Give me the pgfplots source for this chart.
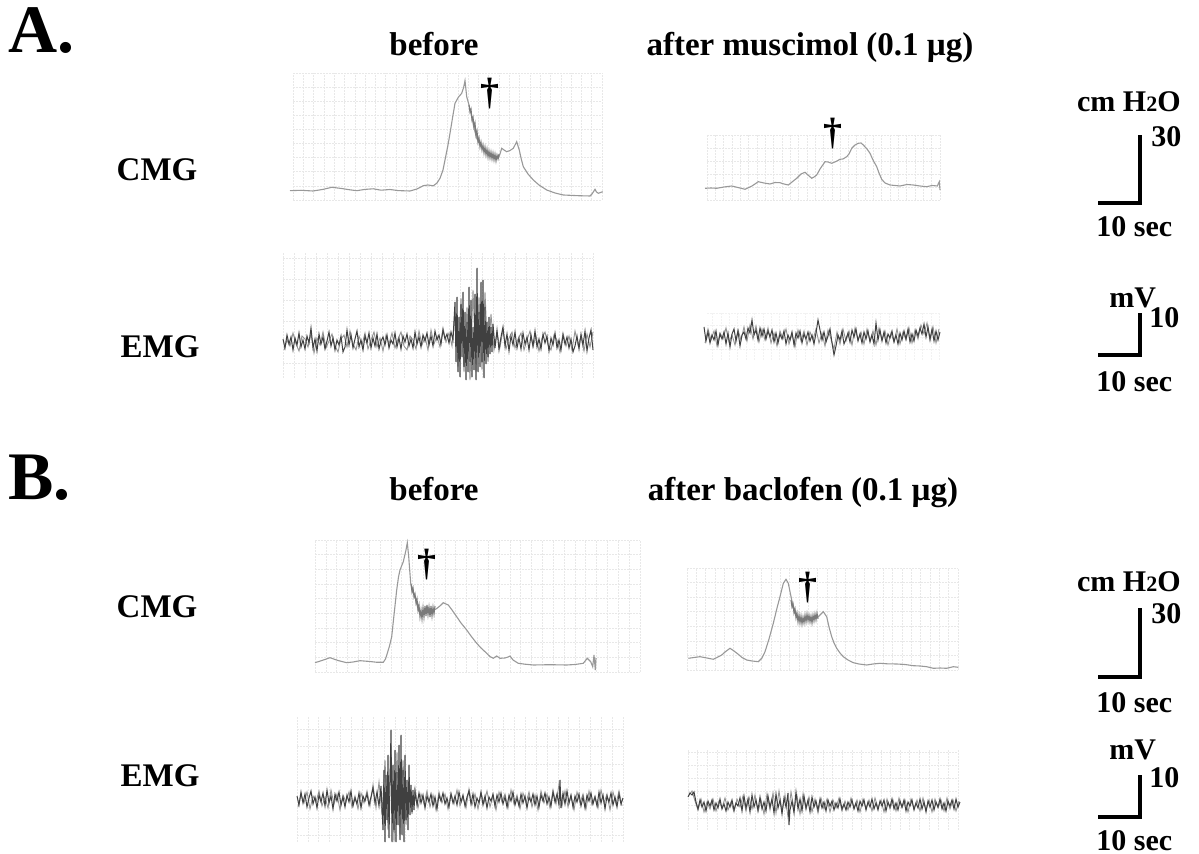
\documentclass[border=0pt]{standalone}
\usepackage{fontspec}
\setmainfont{Liberation Serif}
\usepackage{pgfplots}
\pgfplotsset{compat=1.18}
% one pixel of the reference = 0.5pt
\pgfplotsset{
  trace/.style={x=0.5pt,y=0.5pt,anchor=north west,clip=false,
    axis line style={draw=none},major tick length=0pt,tick style={draw=none},
    xticklabel={\relax},yticklabel={\relax},grid=major,
    major grid style={black!9,line width=0.3pt,dash pattern=on 1pt off 0.5pt}},
  cmg/.style={black!40,line width=0.55pt,mark=none},
  jit/.style={black!52,line width=0.55pt,mark=none},
  emg/.style={black!75,line width=0.5pt,mark=none},
  emgl/.style={black!42,line width=0.45pt,mark=none},
}
\newcommand\hd{\fontsize{16.5}{18}\selectfont\bfseries}
\newcommand\lbl{\fontsize{15}{16}\selectfont\bfseries}
\newcommand\dg{\fontsize{19}{19}\selectfont\bfseries}
\begin{document}
\begin{tikzpicture}
\useasboundingbox (0,0) rectangle (599.5pt,-427pt);

% ---------- A, CMG before
\begin{axis}[trace,at={(293*0.5pt,-73*0.5pt)},xmin=0,xmax=309,ymin=0,ymax=127,
  xtick distance=10.3,ytick distance=14.11]
\addplot[cmg] coordinates {(-3,9.3)(8,9.7)(20,9)(30,10.6)(38.7,12.7)(48,11.6)(56,10.3)(63.7,9.3)(72,10.6)(80.3,11.2)(88,9.8)(97,10.5)(105,9.4)(117,9)(124,11)(130.3,14.3)(135,15)(140.3,14.2)(144,17)(147,21.7)(150,30)(152,40)(155,55)(157,66.7)(160,85)(162,96.7)(165.3,102.7)(168.7,106.7)(170.5,112)(172,119.3)(173.7,103.3)(176,95)(178.7,83.3)(181,72)(183.7,61.7)(187,55)(190.3,51.7)(194,49)(197,46.7)(201,44)(205.3,41.7)(207,46)(208.7,51.7)(211,50)(213.7,48.3)(217,49.5)(220.3,51.7)(222,55)(223.7,58.3)(225,54)(226.3,50)(228,42)(230.3,33.3)(235,26)(240.3,20)(246,15)(253.7,10)(262,7)(270.3,5)(285,4.3)(297,4)(299,6)(302,10.7)(303.5,8)(305.3,6.7)(309.7,8.3)};
\addplot[jit] coordinates {(176,95)(177,88)(178,91)(179,80)(180,83)(181,73)(182,77)(183,65)(184,69)(185,58)(186,62)(187,53)(188,58)(189,50)(190,55)(191,47)(192,53)(193,45)(194,51)(195,43)(196,49)(197,42)(198,48)(199,41)(200,47)(201,40)(202,46)(203,39)(204,45)(205,41)(206,46)};
\end{axis}

% ---------- A, CMG after muscimol
\begin{axis}[trace,at={(707*0.5pt,-135*0.5pt)},xmin=0,xmax=233,ymin=0,ymax=65,
  xtick distance=8.32,ytick distance=13]
\addplot[cmg] coordinates {(-2,11.7)(4,12)(9.7,11.7)(17,13)(24.7,14)(31,12.5)(38,10.7)(45,14)(51.3,18.3)(57,17)(63,16)(68,17.5)(73,17.3)(77,16)(81.3,15)(85,18)(89.7,21.7)(94,26)(98,27.7)(101,25)(104.7,21.7)(107,23)(109.7,25)(113,31)(118,38.3)(121,38)(124.7,36.7)(129,38.5)(133,40.7)(136,41)(139.7,43.3)(142,46)(144.7,51.7)(148,55)(151.3,56.7)(154,57)(156.3,55)(160,51)(163,46.7)(166,40)(169.7,33.3)(172,27)(174.7,20.7)(178,17)(183,15)(188,14.5)(193,14)(200,15.5)(206.3,15)(213,14)(219.7,13.3)(225,14.5)(230.3,14)(232.3,18.3)(233,10)};
\end{axis}

% ---------- A, EMG before
\begin{axis}[trace,at={(283*0.5pt,-253*0.5pt)},xmin=0,xmax=310,ymin=-36,ymax=89,
  xtick distance=11.07,ytick distance=20.83]
\addplot[emgl] coordinates {(1,-8)(4,2)(7,-4)(10,9)(13,-2)(16,-9)(19,6)(22,3)(25,-5)(28,8)(31,-11)(34,4)(37,-3)(40,10)(43,-6)(46,1)(49,8)(52,-4)(55,-10)(58,3)(61,7)(64,-5)(67,11)(70,-2)(73,-8)(76,6)(79,-3)(82,9)(85,-7)(88,2)(91,10)(94,-5)(97,4)(100,-9)(103,7)(106,-2)(109,9)(112,-6)(115,3)(118,10)(121,-4)(124,-8)(127,6)(130,2)(133,-7)(136,11)(139,-3)(142,5)(145,-8)(148,12)(151,-2)(154,6)(157,-5)(160,14)(163,0)(166,9)(169,-4)(172,30)(175,-25)(178,44)(181,-30)(184,35)(187,-38)(190,52)(193,-30)(196,45)(199,-28)(202,50)(205,-20)(208,28)(211,-8)(214,9)(217,-5)(220,12)(223,-7)(226,4)(229,10)(232,-6)(235,3)(238,9)(241,-8)(244,2)(247,11)(250,-5)(253,6)(256,-9)(259,4)(262,10)(265,-3)(268,-8)(271,7)(274,2)(277,-10)(280,9)(283,-4)(286,6)(289,-8)(292,11)(295,-3)(298,5)(301,-9)(304,8)(307,-5)(310,10)};
\addplot[emg] coordinates {(0,3)(2,-6)(4,7)(6,-2)(8,5)(10,-8)(12,4)(14,-3)(16,9)(18,-5)(20,2)(22,-7)(24,6)(26,-1)(28,14)(30,-6)(32,3)(34,-9)(36,8)(38,-2)(40,5)(42,-7)(44,1)(46,10)(48,-4)(50,4)(52,-8)(54,2)(56,-3)(58,6)(60,-10)(62,-5)(64,12)(66,-3)(68,7)(70,-6)(72,3)(74,11)(76,-5)(78,2)(80,-8)(82,6)(84,-1)(86,9)(88,-6)(90,4)(92,-4)(94,8)(96,-7)(98,1)(100,5)(102,-3)(104,7)(106,-6)(108,2)(110,-2)(112,9)(114,-5)(116,4)(118,-7)(120,6)(122,0)(124,8)(126,-4)(128,3)(130,-6)(132,10)(134,-2)(136,5)(138,-5)(140,7)(142,1)(144,9)(146,-3)(148,6)(150,-4)(152,11)(154,2)(156,7)(158,-2)(160,12)(162,3)(164,8)(166,-1)(168,10)(170,2)(172,40)(173,-20)(174,45)(175,-30)(176,25)(177,-35)(178,38)(179,-15)(180,50)(181,-25)(182,30)(183,-38)(184,20)(185,-30)(186,55)(187,-20)(188,42)(189,-35)(190,15)(191,-28)(192,48)(193,-38)(194,74)(195,-30)(196,30)(197,-25)(198,60)(199,-20)(200,62)(201,-36)(202,35)(203,-22)(204,20)(205,-15)(206,25)(207,-12)(208,15)(209,-10)(210,18)(212,-6)(214,12)(216,-8)(218,5)(220,15)(222,-4)(224,8)(226,-9)(228,6)(230,-3)(232,10)(234,-6)(236,4)(238,-7)(240,9)(242,-2)(244,5)(246,-8)(248,7)(250,-4)(252,11)(254,-5)(256,3)(258,-7)(260,8)(262,-1)(264,6)(266,-9)(268,4)(270,-3)(272,9)(274,-6)(276,2)(278,-8)(280,7)(282,-2)(284,5)(286,-6)(288,3)(290,-10)(292,-4)(294,6)(296,-7)(298,8)(300,-3)(302,11)(304,-9)(306,4)(308,12)(310,-8)};
\end{axis}

% ---------- A, EMG after muscimol
\begin{axis}[trace,at={(707*0.5pt,-313*0.5pt)},xmin=3,xmax=236,ymin=-23,ymax=24,
  xtick distance=8.4,ytick distance=12,major grid style={black!5,line width=0.3pt,dash pattern=on 1pt off 0.5pt}]
\addplot[emgl] coordinates {(1,-6)(4,8)(7,-3)(10,6)(13,-9)(16,4)(19,-2)(22,9)(25,-5)(28,2)(31,-8)(34,7)(37,-3)(40,10)(43,-4)(46,12)(49,-2)(52,11)(55,-5)(58,8)(61,-3)(64,9)(67,-6)(70,4)(73,-9)(76,6)(79,-2)(82,8)(85,-7)(88,3)(91,-10)(94,7)(97,-4)(100,6)(103,-8)(106,5)(109,-3)(112,8)(115,-6)(118,4)(121,-9)(124,7)(127,-2)(130,-12)(133,5)(136,-7)(139,8)(142,-4)(145,6)(148,-8)(151,9)(154,-3)(157,5)(160,-7)(163,8)(166,-4)(169,6)(172,-8)(175,9)(178,-3)(181,6)(184,-8)(187,4)(190,-5)(193,8)(196,-7)(199,5)(202,-3)(205,9)(208,-6)(211,7)(214,-2)(217,12)(220,3)(223,14)(226,-4)(229,10)(232,-6)(235,8)};
\addplot[emg] coordinates {(0,10)(2,-4)(4,5)(6,-6)(8,2)(10,-3)(12,6)(14,-8)(16,3)(18,-2)(20,5)(22,-7)(24,4)(26,-10)(28,3)(30,8)(32,-4)(34,6)(36,-9)(38,2)(40,5)(42,-2)(44,9)(46,4)(48,17)(50,2)(52,7)(54,-3)(56,9)(58,1)(60,8)(62,-2)(64,6)(66,0)(68,7)(70,-5)(72,4)(74,-6)(76,3)(78,-2)(80,6)(82,-7)(84,2)(86,-3)(88,5)(90,-8)(92,4)(94,-1)(96,6)(98,-6)(100,3)(102,-2)(104,5)(106,-4)(108,2)(110,-7)(112,4)(114,17)(116,7)(118,-3)(120,5)(122,-5)(124,1)(126,8)(128,-6)(130,-18)(132,-9)(134,2)(136,-3)(138,6)(140,-7)(142,-2)(144,4)(146,-5)(148,7)(150,0)(152,8)(154,-4)(156,3)(158,-6)(160,5)(162,-2)(164,6)(166,-5)(168,2)(170,-7)(172,14)(174,-3)(176,7)(178,-4)(180,5)(182,-6)(184,3)(186,-1)(188,6)(190,-5)(192,2)(194,-7)(196,4)(198,-3)(200,6)(202,-2)(204,8)(206,-5)(208,3)(210,-4)(212,7)(214,1)(216,9)(218,3)(220,13)(222,0)(224,10)(226,-2)(228,8)(230,-4)(232,6)(234,-3)(236,5)};
\end{axis}

% ---------- B, CMG before
\begin{axis}[trace,at={(315*0.5pt,-540*0.5pt)},xmin=0,xmax=325,ymin=0,ymax=132,
  xtick distance=10.83,ytick distance=14.67]
\addplot[cmg] coordinates {(0,9.3)(7,11.5)(15,14.3)(23,11.5)(31.7,9.3)(38,10)(45,11.3)(55,10.5)(62,9.7)(68.3,9.7)(70.5,13)(72.3,18.7)(74.5,26)(76.7,35.3)(79,57)(81.7,82)(83.5,95)(85,102)(88.3,110.3)(91,122)(92.3,129.3)(93.7,115.3)(95.7,88.7)(100,75.3)(103.3,62)(106.7,55.3)(109,59)(111.7,65.3)(115,63)(118.3,62)(121,63)(123.3,64.7)(126,67)(128.3,69.3)(131,68)(133.3,67)(137,62)(141.7,55.3)(146,49)(151.7,42)(156,36)(161.7,28.7)(166,24)(171.7,18.7)(175,15.5)(178.3,13.7)(181.7,16)(185,13.7)(190,14)(193,15)(195,16)(198,12)(203.3,8.7)(210,7.8)(218.3,7)(235,7.3)(251.7,7)(260,7.5)(268.3,8.7)(272.3,13.7)(275.7,10.3)(277.7,5.3)(279,17)(280.3,2)(281,14)};
\addplot[jit] coordinates {(96,88)(97,80)(98,84)(99,75)(100,78)(101,69)(102,73)(103,62)(104,67)(105,55)(106,62)(107,53)(108,64)(109,55)(110,66)(111,56)(112,67)(113,57)(114,65)(115,55)(116,66)(117,56)(118,65)(119,58)(120,66)};
\end{axis}

% ---------- B, CMG after baclofen
\begin{axis}[trace,at={(687*0.5pt,-568*0.5pt)},xmin=0,xmax=271,ymin=0,ymax=102,
  xtick distance=9.34,ytick distance=14.57]
\addplot[cmg] coordinates {(1.3,11.7)(7,12.5)(13,13.3)(20,12)(26.3,10.7)(30,12.5)(34.7,15)(38,18)(43,21.7)(47,19)(51.3,15.7)(55,12.5)(59.7,10)(65,9)(71.3,8.3)(75,12)(78,18.3)(82,31)(86.3,46.7)(90,62)(93,73.3)(96.3,86.7)(99,90.7)(101.3,86.7)(104.7,70)(107,62)(109.7,55)(112,51)(114.7,50)(118,52)(121.3,53.3)(125,52)(128,51.7)(131,53)(133,55)(136.3,58.3)(139.7,53.3)(142,43)(144.7,33.3)(147,27)(149.7,21.7)(153,17)(156.3,13.3)(161,10)(166.3,7.3)(172,6)(179.7,5)(186,6)(193,6.7)(200,6.2)(209.7,6)(218,5.5)(226.3,4.3)(233,4)(239.7,3.3)(246.3,1.7)(253,2)(259.7,1.7)(266.3,3.3)(271.3,2.7)};
\addplot[jit] coordinates {(104,70)(105,63)(106,66)(107,57)(108,61)(109,52)(110,57)(111,48)(112,55)(113,47)(114,54)(115,46)(116,53)(117,47)(118,55)(119,48)(120,56)(121,49)(122,55)(123,48)(124,54)(125,47)(126,55)(127,49)(128,56)(129,50)(130,57)(131,51)};
\end{axis}

% ---------- B, EMG before
\begin{axis}[trace,at={(297*0.5pt,-717*0.5pt)},xmin=0,xmax=326,ymin=-42,ymax=83,
  xtick distance=10.87,ytick distance=17.8]
\addplot[emgl] coordinates {(1,-7)(4,5)(7,-3)(10,8)(13,-9)(16,4)(19,-2)(22,9)(25,-6)(28,3)(31,-8)(34,10)(37,-4)(40,6)(43,-10)(46,5)(49,-2)(52,8)(55,-7)(58,4)(61,-9)(64,7)(67,-3)(70,9)(73,-6)(76,15)(79,-8)(82,18)(85,-15)(88,40)(91,-30)(94,55)(97,-42)(100,48)(103,-35)(106,40)(109,-25)(112,22)(115,-14)(118,12)(121,-8)(124,6)(127,-4)(130,9)(133,-7)(136,5)(139,-10)(142,8)(145,-3)(148,6)(151,-9)(154,7)(157,-4)(160,10)(163,-6)(166,3)(169,-8)(172,11)(175,-5)(178,6)(181,-9)(184,7)(187,-3)(190,9)(193,-7)(196,4)(199,-10)(202,8)(205,-2)(208,6)(211,-8)(214,10)(217,-4)(220,5)(223,-9)(226,7)(229,-3)(232,8)(235,-7)(238,5)(241,-10)(244,9)(247,-3)(250,6)(253,-8)(256,10)(259,-4)(262,16)(265,-6)(268,9)(271,-7)(274,4)(277,-10)(280,8)(283,-3)(286,6)(289,-9)(292,9)(295,-5)(298,4)(301,-8)(304,10)(307,-3)(310,6)(313,-10)(316,8)(319,-4)(322,9)(325,-6)};
\addplot[emg] coordinates {(0,4)(2,-5)(4,8)(6,-3)(8,6)(10,-7)(12,2)(14,9)(16,-4)(18,3)(20,-8)(22,5)(24,-2)(26,7)(28,-6)(30,10)(32,-3)(34,4)(36,-9)(38,6)(40,-1)(42,8)(44,-5)(46,3)(48,-7)(50,5)(52,-2)(54,9)(56,-6)(58,2)(60,-4)(62,7)(64,-8)(66,4)(68,-1)(70,6)(72,-5)(74,3)(76,12)(78,-3)(80,8)(82,-6)(84,14)(86,-30)(87,30)(88,-42)(89,25)(90,-20)(91,45)(92,-38)(93,18)(94,70)(95,-42)(96,35)(97,-30)(98,50)(99,-42)(100,28)(101,-25)(102,55)(103,-40)(104,65)(105,-35)(106,30)(107,-42)(108,45)(109,-20)(110,20)(111,-30)(112,35)(113,-15)(114,15)(115,-12)(116,10)(117,-10)(118,8)(120,-5)(122,7)(124,-3)(126,5)(128,-8)(130,4)(132,-2)(134,6)(136,-6)(138,3)(140,-9)(142,5)(144,-1)(146,7)(148,-4)(150,2)(152,-7)(154,6)(156,-3)(158,4)(160,-5)(162,8)(164,-2)(166,5)(168,-6)(170,3)(172,9)(174,-4)(176,6)(178,-7)(180,2)(182,-3)(184,8)(186,-5)(188,4)(190,-8)(192,3)(194,-1)(196,6)(198,-6)(200,5)(202,-2)(204,7)(206,-4)(208,3)(210,-7)(212,5)(214,-1)(216,8)(218,-5)(220,2)(222,-6)(224,6)(226,-3)(228,4)(230,-8)(232,3)(234,-2)(236,6)(238,-5)(240,4)(242,-7)(244,5)(246,-1)(248,7)(250,-4)(252,3)(254,-6)(256,8)(258,-2)(260,6)(262,-5)(263,20)(264,-8)(266,7)(268,-4)(270,9)(272,-3)(274,5)(276,-7)(278,4)(280,-2)(282,6)(284,-6)(286,3)(288,-8)(290,5)(292,-1)(294,7)(296,-4)(298,3)(300,-6)(302,8)(304,-3)(306,5)(308,-9)(310,4)(312,-2)(314,7)(316,-5)(318,3)(320,-7)(322,6)(324,-4)(326,2)};
\end{axis}

% ---------- B, EMG after baclofen
\begin{axis}[trace,at={(688*0.5pt,-750*0.5pt)},xmin=0,xmax=270,ymin=-25,ymax=55,
  xtick distance=9.64,ytick distance=13.3]
\addplot[emgl] coordinates {(1,10)(4,14)(7,4)(10,-5)(13,6)(16,-7)(19,3)(22,-4)(25,6)(28,-6)(31,4)(34,-3)(37,7)(40,-5)(43,3)(46,-7)(49,6)(52,-2)(55,9)(58,-6)(61,8)(64,-4)(67,10)(70,-7)(73,5)(76,-9)(79,11)(82,-5)(85,12)(88,-8)(91,14)(94,-6)(97,10)(100,-12)(103,13)(106,-4)(109,9)(112,-9)(115,11)(118,-5)(121,8)(124,-7)(127,6)(130,-8)(133,7)(136,-4)(139,6)(142,-7)(145,5)(148,-3)(151,7)(154,-6)(157,4)(160,-5)(163,7)(166,-3)(169,5)(172,-7)(175,6)(178,-4)(181,5)(184,-6)(187,7)(190,-3)(193,5)(196,-7)(199,6)(202,-4)(205,5)(208,-6)(211,7)(214,-3)(217,5)(220,-7)(223,6)(226,-4)(229,5)(232,-6)(235,7)(238,-5)(241,5)(244,-7)(247,6)(250,-3)(253,5)(256,-6)(259,7)(262,-4)(265,5)(268,-6)(271,4)};
\addplot[emg] coordinates {(0,8)(2,12)(4,10)(6,13)(8,3)(10,-4)(12,5)(14,-2)(16,3)(18,-6)(20,4)(22,-1)(24,5)(26,-5)(28,2)(30,-3)(32,6)(34,-4)(36,1)(38,-6)(40,3)(42,-2)(44,5)(46,-5)(48,2)(50,-1)(52,7)(54,-6)(56,9)(58,-3)(60,6)(62,-7)(64,10)(66,-2)(68,5)(70,-5)(72,8)(74,-4)(76,3)(78,-6)(80,9)(82,-2)(84,6)(86,-8)(88,11)(90,-3)(92,5)(94,-9)(96,7)(98,-2)(100,12)(101,-20)(102,-5)(104,4)(106,-8)(108,13)(110,-4)(112,6)(114,-6)(116,9)(118,-3)(120,5)(122,-7)(124,8)(126,-2)(128,4)(130,-5)(132,6)(134,-3)(136,3)(138,-6)(140,5)(142,-1)(144,4)(146,-5)(148,2)(150,-3)(152,6)(154,-4)(156,1)(158,-5)(160,3)(162,-2)(164,5)(166,-4)(168,2)(170,-6)(172,4)(174,-1)(176,5)(178,-5)(180,3)(182,-2)(184,6)(186,-4)(188,2)(190,-5)(192,4)(194,-1)(196,5)(198,-6)(200,3)(202,-2)(204,6)(206,-4)(208,2)(210,-5)(212,4)(214,-2)(216,5)(218,-6)(220,3)(222,-1)(224,5)(226,-5)(228,2)(230,-3)(232,6)(234,-4)(236,3)(238,-7)(240,4)(242,-2)(244,5)(246,-5)(248,3)(250,-2)(252,6)(254,-4)(256,2)(258,-6)(260,4)(262,-1)(264,5)(266,-4)(268,6)(270,-2)(272,3)};
\end{axis}

% ---------- labels, daggers and scale bars (pixel coordinates)
\begin{scope}[x=0.5pt,y=-0.5pt,every node/.style={inner sep=0pt}]
\node[anchor=base west,font=\fontsize{34}{34}\selectfont\bfseries] at (8,53) {A.};
\node[anchor=base west,font=\fontsize{34}{34}\selectfont\bfseries] at (8,500) {B.};
\node[anchor=base,font=\hd] at (434,56) {before};
\node[anchor=base,font=\hd] at (810,56) {after muscimol (0.1 µg)};
\node[anchor=base,font=\hd] at (434,501) {before};
\node[anchor=base,font=\hd] at (803,501) {after baclofen (0.1 µg)};
\node[anchor=base,font=\hd] at (157,181) {CMG};
\node[anchor=base,font=\hd] at (160,358) {EMG};
\node[anchor=base,font=\hd] at (157,618) {CMG};
\node[anchor=base,font=\hd] at (160,786) {EMG};
\node[font=\dg] at (490,94) {†};
\node[font=\dg] at (833,134) {†};
\node[font=\dg] at (427,565) {†};
\node[font=\dg] at (808,588) {†};
% scale bars A
\node[anchor=base east,font=\lbl] at (1181,112) {cm H{\fontsize{11}{11}\selectfont 2}O};
\node[anchor=base west,font=\lbl] at (1151,147) {30};
\draw[line width=2pt] (1098,203) -- (1140,203) -- (1140,135);
\node[anchor=base west,font=\lbl] at (1096,237) {10 sec};
\node[anchor=base west,font=\lbl] at (1109,308) {mV};
\node[anchor=base west,font=\lbl] at (1149,328) {10};
\draw[line width=2pt] (1098,355) -- (1140,355) -- (1140,313);
\node[anchor=base west,font=\lbl] at (1096,392) {10 sec};
% scale bars B
\node[anchor=base east,font=\lbl] at (1181,592) {cm H{\fontsize{11}{11}\selectfont 2}O};
\node[anchor=base west,font=\lbl] at (1151,624) {30};
\draw[line width=2pt] (1098,677) -- (1140,677) -- (1140,608);
\node[anchor=base west,font=\lbl] at (1096,712) {10 sec};
\node[anchor=base west,font=\lbl] at (1109,760) {mV};
\node[anchor=base west,font=\lbl] at (1149,787) {10};
\draw[line width=2pt] (1098,817) -- (1140,817) -- (1140,775);
\node[anchor=base west,font=\lbl] at (1096,850) {10 sec};
\end{scope}
\end{tikzpicture}
\end{document}
